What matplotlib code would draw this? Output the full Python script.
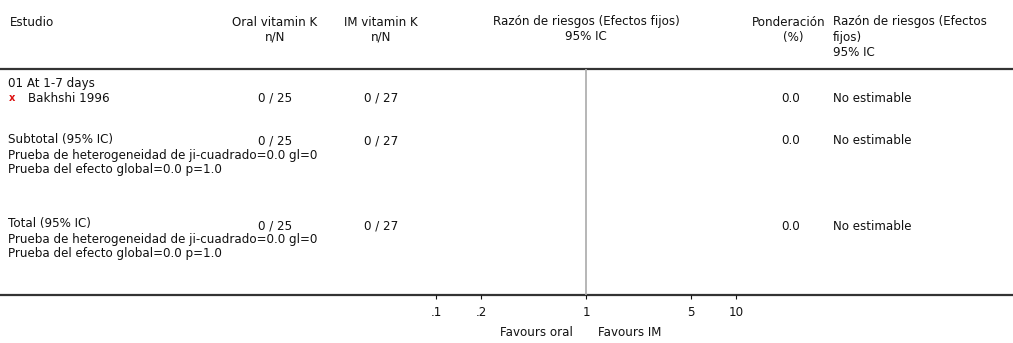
import matplotlib
matplotlib.use("Agg")
import matplotlib.pyplot as plt

# ---- data ----
header_study = "Estudio"
header_group1 = ["Oral vitamin K", "n/N"]
header_group2 = ["IM vitamin K", "n/N"]
header_effect = ["Razón de riesgos (Efectos fijos)", "95% IC"]
header_weight = ["Ponderación", "(%)"]
header_effect2 = ["Razón de riesgos (Efectos", "fijos)", "95% IC"]

subgroup_title = "01 At 1-7 days"
studies = ["Bakhshi 1996"]
events1 = [0]
totals1 = [25]
events2 = [0]
totals2 = [27]
weights = [0.0]
effects = ["No estimable"]

subtotal_label = "Subtotal (95% IC)"
subtotal_stats = ["Prueba de heterogeneidad de ji-cuadrado=0.0 gl=0",
                  "Prueba del efecto global=0.0 p=1.0"]
subtotal_weight = 0.0
subtotal_effect = "No estimable"

total_label = "Total (95% IC)"
total_stats = ["Prueba de heterogeneidad de ji-cuadrado=0.0 gl=0",
               "Prueba del efecto global=0.0 p=1.0"]
total_weight = 0.0
total_effect = "No estimable"

tick_values = [0.1, 0.2, 1, 5, 10]
tick_labels = [".1", ".2", "1", "5", "10"]
favours_left = "Favours oral"
favours_right = "Favours IM"

# ---- layout (pixels) ----
W, H = 1013, 343
FS = 8.6
plt.rcParams['font.family'] = ['DejaVu Sans']

fig = plt.figure(figsize=(W / 100, H / 100), dpi=100)
bg = fig.add_axes([0, 0, 1, 1])
bg.set_xlim(0, W)
bg.set_ylim(H, 0)
bg.axis("off")

TOP, BOT = 69, 295
X_STUDY, X_G1, X_G2, X_EFF, X_W, X_E2 = 8, 275, 381, 586, 800, 833


def t(x, y, s, ha="left", **kw):
    bg.text(x, y, s, ha=ha, va="center", fontsize=FS, color="#111111", **kw)


# header
t(X_STUDY + 2, 22, header_study)
for i, s in enumerate(header_group1):
    t(X_G1, 22 + 15 * i, s, ha="center")
for i, s in enumerate(header_group2):
    t(X_G2, 22 + 15 * i, s, ha="center")
for i, s in enumerate(header_effect):
    t(X_EFF, 22 + 15 * i, s, ha="center")
t(789, 22, header_weight[0], ha="center")
t(793, 37, header_weight[1], ha="center")
for i, s in enumerate(header_effect2):
    t(X_E2, 22 + 15 * i, s)

# rules
bg.plot([0, W], [TOP, TOP], color="#333333", lw=1.6, solid_capstyle="butt")
bg.plot([0, W], [BOT, BOT], color="#333333", lw=1.6, solid_capstyle="butt")

# subgroup
t(X_STUDY, 83, subgroup_title)
y = 98
for name, e1, n1, e2, n2, w, eff in zip(studies, events1, totals1, events2,
                                        totals2, weights, effects):
    bg.text(12, y, "x", ha="center", va="center", fontsize=FS - 1.5,
            color="#dd1111", fontweight="bold")
    t(28, y, name)
    t(X_G1, y, f"{e1} / {n1}", ha="center")
    t(X_G2, y, f"{e2} / {n2}", ha="center")
    t(X_W, y, f"{w:.1f}", ha="right")
    t(X_E2, y, eff)
    y += 15

# subtotal
t(X_STUDY, 139, subtotal_label)
t(X_G1, 141, f"{sum(events1)} / {sum(totals1)}", ha="center")
t(X_G2, 141, f"{sum(events2)} / {sum(totals2)}", ha="center")
t(X_W, 141, f"{subtotal_weight:.1f}", ha="right")
t(X_E2, 141, subtotal_effect)
for i, s in enumerate(subtotal_stats):
    t(X_STUDY, 155 + 14 * i, s)

# total
t(X_STUDY, 224, total_label)
t(X_G1, 226, f"{sum(events1)} / {sum(totals1)}", ha="center")
t(X_G2, 226, f"{sum(events2)} / {sum(totals2)}", ha="center")
t(X_W, 226, f"{total_weight:.1f}", ha="right")
t(X_E2, 226, total_effect)
for i, s in enumerate(total_stats):
    t(X_STUDY, 240 + 14 * i, s)

# forest axis (log scale): 0.1 at x=436, 10 at x=736
ax = fig.add_axes([436 / W, (H - BOT) / H, 300 / W, (BOT - TOP) / H])
ax.set_xscale("log")
ax.set_xlim(0.1, 10)
ax.set_ylim(0, 1)
ax.patch.set_alpha(0)
for sp in ax.spines.values():
    sp.set_visible(False)
ax.axvline(1, color="#aaaaaa", lw=1.2)
ax.set_xticks(tick_values)
ax.set_xticklabels(tick_labels)
ax.minorticks_off()
ax.set_yticks([])
ax.tick_params(axis="x", direction="out", length=3, width=0.8, pad=5,
               labelsize=FS, colors="#111111")

t(573, 333, favours_left, ha="right")
t(598, 333, favours_right)

fig.savefig("out.png", dpi=100)
